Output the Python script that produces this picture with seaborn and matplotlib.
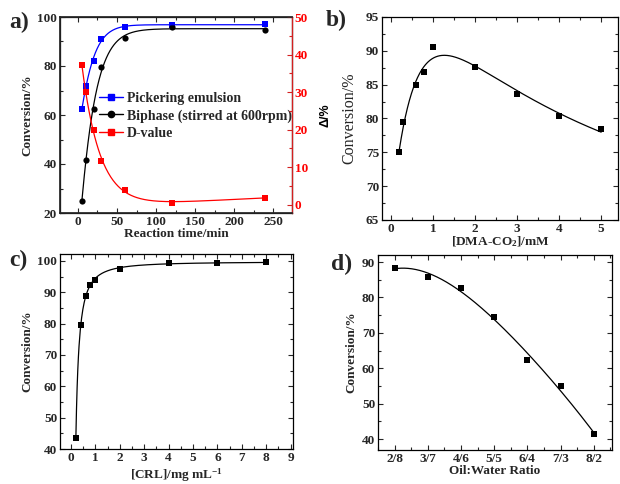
import numpy as np
import pandas as pd
import matplotlib
matplotlib.use("Agg")
import matplotlib.pyplot as plt
import seaborn as sns
from matplotlib.lines import Line2D
from matplotlib.ticker import MultipleLocator

# a) conversion vs reaction time
time_min = [5, 10, 20, 30, 60, 120, 240]
conv_pickering = [62.3, 71.8, 82.2, 91.2, 96.0, 96.6, 97.1]
conv_biphase = [24.7, 41.7, 62.4, 79.4, 91.6, 95.9, 94.8]
d_value = [37.2, 29.9, 19.8, 11.7, 4.0, 0.5, 1.9]

# b) conversion vs [DMA-CO2]
dma_mM = [0.2, 0.3, 0.6, 0.8, 1, 2, 3, 4, 5]
conv_dma = [75.1, 79.5, 85.0, 86.9, 90.5, 87.6, 83.6, 80.4, 78.5]

# c) conversion vs [CRL]
crl = [0.2, 0.4, 0.6, 0.8, 1, 2, 4, 6, 8]
conv_crl = [43.4, 79.6, 88.9, 92.3, 94.0, 97.4, 99.4, 99.3, 99.8]

# d) conversion vs oil:water ratio
ratio_labels = ["2/8", "3/7", "4/6", "5/5", "6/4", "7/3", "8/2"]
conv_ratio = [88.4, 85.8, 82.8, 74.4, 62.2, 55.1, 41.5]

sns.set_theme(style="ticks")
plt.rcParams["font.family"] = ["Liberation Serif", "DejaVu Serif"]
plt.rcParams["font.weight"] = "bold"
plt.rcParams["axes.labelweight"] = "bold"
plt.rcParams["mathtext.fontset"] = "custom"
plt.rcParams["mathtext.bf"] = "Liberation Serif:bold"
plt.rcParams["mathtext.rm"] = "Liberation Serif:bold"
plt.rcParams["mathtext.default"] = "bf"


# fitted trend lines, all by least squares with a small grid over the
# nonlinear parameter(s)
def grid_fit(x, y, design, grid):
    x = np.asarray(x, float)
    y = np.asarray(y, float)
    best = None
    for p in grid:
        M = design(x, *p)
        coef = np.linalg.lstsq(M, y, rcond=None)[0]
        err = np.sum((M @ coef - y) ** 2)
        if best is None or err < best[0]:
            best = (err, p, coef)
    _, p, coef = best
    return lambda xx: design(np.asarray(xx, float), *p) @ coef


def weibull(linear=False):
    def design(x, t, k):
        cols = [np.ones_like(x), np.exp(-(x / t) ** k)]
        if linear:
            cols.append(x)
        return np.column_stack(cols)
    return design


def grid2(a, b):
    return [(u, v) for u in a for v in b]


def curve(ax, x, f, color, n=300):
    xs = np.linspace(min(x), max(x), n)
    df = pd.DataFrame({"x": xs, "y": f(xs)})
    sns.lineplot(data=df, x="x", y="y", ax=ax, color=color, lw=0.9, sort=False)


def style(ax, top=True, right=True):
    ax.tick_params(which="both", direction="in", top=top, right=right,
                   labelsize=9.5, width=0.8, pad=2)
    ax.tick_params(which="major", length=3.5)
    ax.tick_params(which="minor", length=2)
    for s in ax.spines.values():
        s.set_linewidth(0.9)
        s.set_color("black")


fig = plt.figure(figsize=(6.2, 4.84), dpi=100)
W, H = 620, 484


def add_ax(l, t, r, b):
    return fig.add_axes([l / W, 1 - b / H, (r - l) / W, (b - t) / H])


# ---- a)
ax = add_ax(60, 17, 292, 213)
ax2 = ax.twinx()
tk = grid2(np.geomspace(3, 300, 80), np.linspace(0.5, 2.5, 41))
curve(ax, time_min, grid_fit(time_min, conv_pickering, weibull(), tk), "blue")
curve(ax, time_min, grid_fit(time_min, conv_biphase, weibull(), tk), "black")
curve(ax2, time_min, grid_fit(time_min, d_value, weibull(True), tk), "red")
sns.scatterplot(x=time_min, y=conv_pickering, ax=ax, marker="s", s=17,
                color="blue", linewidth=0)
sns.scatterplot(x=time_min, y=conv_biphase, ax=ax, marker="o", s=20,
                color="black", linewidth=0)
sns.scatterplot(x=time_min, y=d_value, ax=ax2, marker="s", s=17,
                color="red", linewidth=0)
ax.set_xlim(-23, 274)
ax.set_ylim(20, 100)
ax2.set_ylim(-2.2, 50)
ax.xaxis.set_major_locator(MultipleLocator(50))
ax.xaxis.set_minor_locator(MultipleLocator(25))
ax.yaxis.set_major_locator(MultipleLocator(20))
ax.yaxis.set_minor_locator(MultipleLocator(10))
ax2.yaxis.set_major_locator(MultipleLocator(10))
ax2.yaxis.set_minor_locator(MultipleLocator(5))
style(ax, top=True, right=False)
ax2.tick_params(which="both", direction="in", colors="#d42020",
                labelcolor="red", labelsize=9.5, width=0.8, pad=2)
ax2.tick_params(which="major", length=3.5)
ax2.tick_params(which="minor", length=2)
ax2.spines["right"].set_color("#d42020")
ax2.spines["right"].set_linewidth(0.9)
ax.set_xlabel("Reaction time/min", fontsize=9.5, labelpad=0)
ax.set_ylabel("Conversion/%", fontsize=9.5, labelpad=3)
ax2.set_ylabel("Δ/%", fontsize=9, family="Liberation Sans", color="black",
               labelpad=8)
handles = [
    Line2D([], [], color="blue", marker="s", ms=4.2, lw=1),
    Line2D([], [], color="black", marker="o", ms=4.5, lw=1),
    Line2D([], [], color="red", marker="s", ms=4.2, lw=1),
]
ax.legend(handles, ["Pickering emulsion", "Biphase (stirred at 600rpm)", "D-value"],
          loc="upper left", bbox_to_anchor=(0.17, 0.618), frameon=False,
          fontsize=10, handlelength=1.7, handletextpad=0.3, labelspacing=0.3,
          borderpad=0, borderaxespad=0)

# ---- b)  rise-and-decay trend: A + B*(exp(-x/t1) - exp(-x/t2))
def bateman(x, t1, t2):
    return np.column_stack([np.ones_like(x), np.exp(-x / t1) - np.exp(-x / t2)])


ax = add_ax(382, 17, 618, 220)
tt = [(a, b) for a in np.geomspace(0.5, 30, 70) for b in np.geomspace(0.02, 2, 70) if b < a]
curve(ax, dma_mM, grid_fit(dma_mM, conv_dma, bateman, tt), "black")
sns.scatterplot(x=dma_mM, y=conv_dma, ax=ax, marker="s", s=13,
                color="black", linewidth=0)
ax.set_xlim(-0.21, 5.4)
ax.set_ylim(65, 95)
ax.xaxis.set_major_locator(MultipleLocator(1))
ax.xaxis.set_minor_locator(MultipleLocator(0.5))
ax.yaxis.set_major_locator(MultipleLocator(5))
ax.yaxis.set_minor_locator(MultipleLocator(2.5))
style(ax)
ax.set_xlabel("[DMA-CO$_2$]/mM", fontsize=9.5, labelpad=0)
ax.set_ylabel("Conversion/%", fontsize=11.5, fontweight="normal", labelpad=6)

# ---- c)  saturation trend: A + B*x^-p
def power(x, p):
    return np.column_stack([np.ones_like(x), x ** (-p)])


ax = add_ax(60, 254, 293, 449)
curve(ax, crl, grid_fit(crl, conv_crl, power, [(p,) for p in np.linspace(0.3, 3, 271)]), "black")
sns.scatterplot(x=crl, y=conv_crl, ax=ax, marker="s", s=13,
                color="black", linewidth=0)
ax.set_xlim(-0.45, 9.1)
ax.set_ylim(40, 102.2)
ax.xaxis.set_major_locator(MultipleLocator(1))
ax.xaxis.set_minor_locator(MultipleLocator(0.5))
ax.yaxis.set_major_locator(MultipleLocator(10))
ax.yaxis.set_minor_locator(MultipleLocator(5))
style(ax)
ax.set_xlabel("[CRL]/mg mL$^{-1}$", fontsize=9.5, labelpad=2)
ax.set_ylabel("Conversion/%", fontsize=9.5, labelpad=3)

# ---- d)
ax = add_ax(378, 255, 612, 450)
pos = np.arange(len(ratio_labels))
coef_d = np.polyfit(pos, conv_ratio, 4)
curve(ax, pos, lambda xx: np.polyval(coef_d, xx), "black")
sns.scatterplot(x=pos, y=conv_ratio, ax=ax, marker="s", s=13,
                color="black", linewidth=0)
ax.set_xlim(-0.5, 6.55)
ax.set_ylim(36.9, 92)
ax.set_xticks(pos, ratio_labels)
ax.xaxis.set_minor_locator(MultipleLocator(0.5))
ax.yaxis.set_major_locator(MultipleLocator(10))
ax.yaxis.set_minor_locator(MultipleLocator(5))
style(ax)
ax.set_xlabel("Oil:Water Ratio", fontsize=9.5, labelpad=0)
ax.set_ylabel("Conversion/%", fontsize=9.5, labelpad=3)

# panel letters
for letter, x, y in [("a)", 9, 12), ("b)", 326, 10), ("c)", 9, 250), ("d)", 331, 254)]:
    fig.text(x / W, 1 - y / H, letter, fontsize=17, fontweight="bold",
             ha="left", va="top")

fig.savefig("out.png", dpi=100)
